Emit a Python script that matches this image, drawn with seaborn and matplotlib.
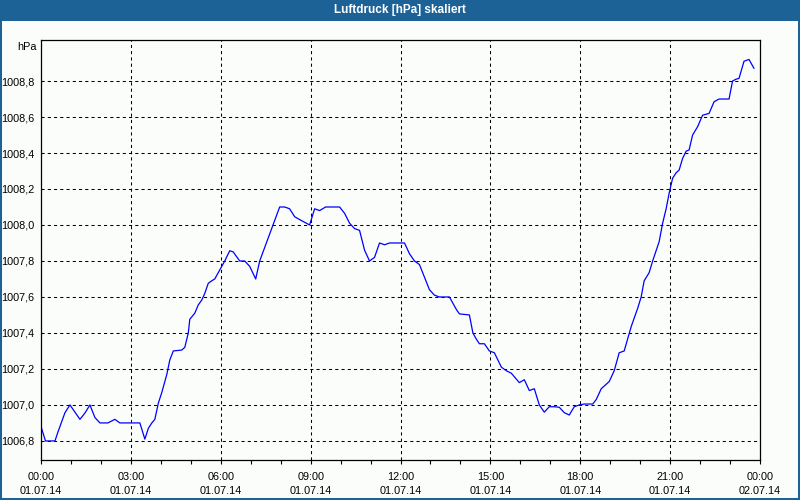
import matplotlib
matplotlib.use("Agg")
import matplotlib.pyplot as plt
from matplotlib.patches import Rectangle
import numpy as np
import pandas as pd
import seaborn as sns

# ---- data -------------------------------------------------------------
minutes = [0, 9, 28, 34, 48, 58, 78, 88, 98, 108, 118, 134, 148, 158, 198, 208,
           215, 222, 228, 235, 242, 252, 258, 265, 282, 288, 295, 298, 308, 315,
           322, 328, 335, 342, 348, 358, 368, 378, 385, 398, 408, 418, 430, 438,
           458, 478, 488, 498, 508, 518, 528, 538, 548, 558, 570, 598, 608, 618,
           628, 638, 648, 658, 668, 678, 688, 698, 718, 728, 738, 748, 758, 768,
           778, 788, 798, 818, 832, 838, 858, 865, 872, 878, 888, 898, 908, 922,
           932, 942, 958, 968, 978, 988, 998, 1008, 1018, 1028, 1038, 1048, 1058,
           1068, 1078, 1088, 1105, 1112, 1122, 1138, 1148, 1158, 1168, 1182, 1195,
           1202, 1208, 1218, 1225, 1238, 1245, 1252, 1258, 1265, 1272, 1278, 1285,
           1292, 1298, 1305, 1315, 1325, 1338, 1348, 1358, 1378, 1385, 1392, 1398,
           1408, 1418, 1428]
pressure = [1006.88, 1006.80, 1006.80, 1006.85, 1006.957, 1007.00, 1006.92, 1006.955,
            1007.00, 1006.93, 1006.90, 1006.90, 1006.92, 1006.90, 1006.90, 1006.81,
            1006.87, 1006.90, 1006.92, 1007.01, 1007.07, 1007.17, 1007.25, 1007.30,
            1007.305, 1007.32, 1007.40, 1007.476, 1007.51, 1007.556, 1007.583, 1007.62,
            1007.676, 1007.69, 1007.70, 1007.75, 1007.80, 1007.857, 1007.85, 1007.80,
            1007.80, 1007.77, 1007.70, 1007.80, 1007.95, 1008.10, 1008.10, 1008.09,
            1008.046, 1008.03, 1008.015, 1008.00, 1008.09, 1008.08, 1008.10, 1008.10,
            1008.065, 1008.01, 1007.98, 1007.97, 1007.86, 1007.80, 1007.82, 1007.90,
            1007.89, 1007.90, 1007.90, 1007.90, 1007.84, 1007.80, 1007.78, 1007.71,
            1007.64, 1007.61, 1007.60, 1007.60, 1007.53, 1007.506, 1007.50, 1007.40,
            1007.365, 1007.34, 1007.34, 1007.30, 1007.29, 1007.21, 1007.19, 1007.176,
            1007.124, 1007.14, 1007.08, 1007.09, 1007.00, 1006.96, 1006.99, 1006.99,
            1006.987, 1006.957, 1006.944, 1006.99, 1007.00, 1007.005, 1007.005, 1007.03,
            1007.09, 1007.13, 1007.19, 1007.29, 1007.30, 1007.435, 1007.537, 1007.60,
            1007.69, 1007.735, 1007.80, 1007.907, 1008.01, 1008.09, 1008.176, 1008.26,
            1008.29, 1008.305, 1008.37, 1008.41, 1008.417, 1008.50, 1008.546, 1008.61,
            1008.62, 1008.685, 1008.70, 1008.70, 1008.80, 1008.81, 1008.815, 1008.91,
            1008.92, 1008.87]

tick_hours = [0, 3, 6, 9, 12, 15, 18, 21, 24]
tick_labels = ["00:00\n01.07.14", "03:00\n01.07.14", "06:00\n01.07.14",
               "09:00\n01.07.14", "12:00\n01.07.14", "15:00\n01.07.14",
               "18:00\n01.07.14", "21:00\n01.07.14", "00:00\n02.07.14"]
y_ticks = [1006.8, 1007.0, 1007.2, 1007.4, 1007.6, 1007.8, 1008.0, 1008.2,
           1008.4, 1008.6, 1008.8]
y_labels = ["1006,8", "1007,0", "1007,2", "1007,4", "1007,6", "1007,8",
            "1008,0", "1008,2", "1008,4", "1008,6", "1008,8"]
title = "Luftdruck [hPa] skaliert"
unit = "hPa"

# ---- style ------------------------------------------------------------
sns.set_style("white")
plt.rcParams["font.family"] = ["Liberation Sans", "DejaVu Sans"]

bg = "#fbfdfb"
bar = "#1d6296"

df = pd.DataFrame({"hour": np.array(minutes) / 60.0, "p": pressure})

fig = plt.figure(figsize=(8, 5), dpi=100, facecolor=bg)
ax = fig.add_axes([41 / 800, 40 / 500, 719 / 800, 420 / 500])
ax.set_facecolor(bg)

sns.lineplot(data=df, x="hour", y="p", ax=ax, color="#0000ff", linewidth=0.9)

ax.set_xlim(0, 24)
ax.set_ylim(1006.694, 1009.028)
ax.set_xticks(tick_hours)
ax.set_xticklabels(tick_labels, fontsize=7.8, linespacing=1.45)
ax.set_xticks(range(25), minor=True)
ax.set_yticks(y_ticks)
ax.set_yticklabels(y_labels, fontsize=7.8)
ax.set_xlabel("")
ax.set_ylabel("")

ax.tick_params(axis="x", which="both", direction="out", length=3, width=0.8,
               color="black", pad=6, labelcolor="black", bottom=True)
ax.tick_params(axis="y", which="both", length=0, pad=5, labelcolor="black")

ax.grid(True, which="major", axis="both", color="black",
        linestyle=(0, (3, 3)), linewidth=0.75)
ax.set_axisbelow(True)
for s in ax.spines.values():
    s.set_visible(True)
    s.set_color("black")
    s.set_linewidth(0.9)

# title bar and border
fig.patches.append(Rectangle((0, 1 - 21 / 500), 1, 21 / 500,
                             transform=fig.transFigure, facecolor=bar,
                             edgecolor="none", zorder=0))
fig.text(0.5, 1 - 10.5 / 500, title, color="white", fontsize=8.5,
         fontweight="bold", ha="center", va="center")
fig.patches.append(Rectangle((0, 0), 1, 1, transform=fig.transFigure,
                             fill=False, edgecolor=bar, linewidth=2.9,
                             zorder=5))
fig.text(37 / 800, 1 - 46.5 / 500, unit, fontsize=7.8, ha="right",
         va="center", color="black")

fig.savefig("out.png", dpi=100, facecolor=bg)
